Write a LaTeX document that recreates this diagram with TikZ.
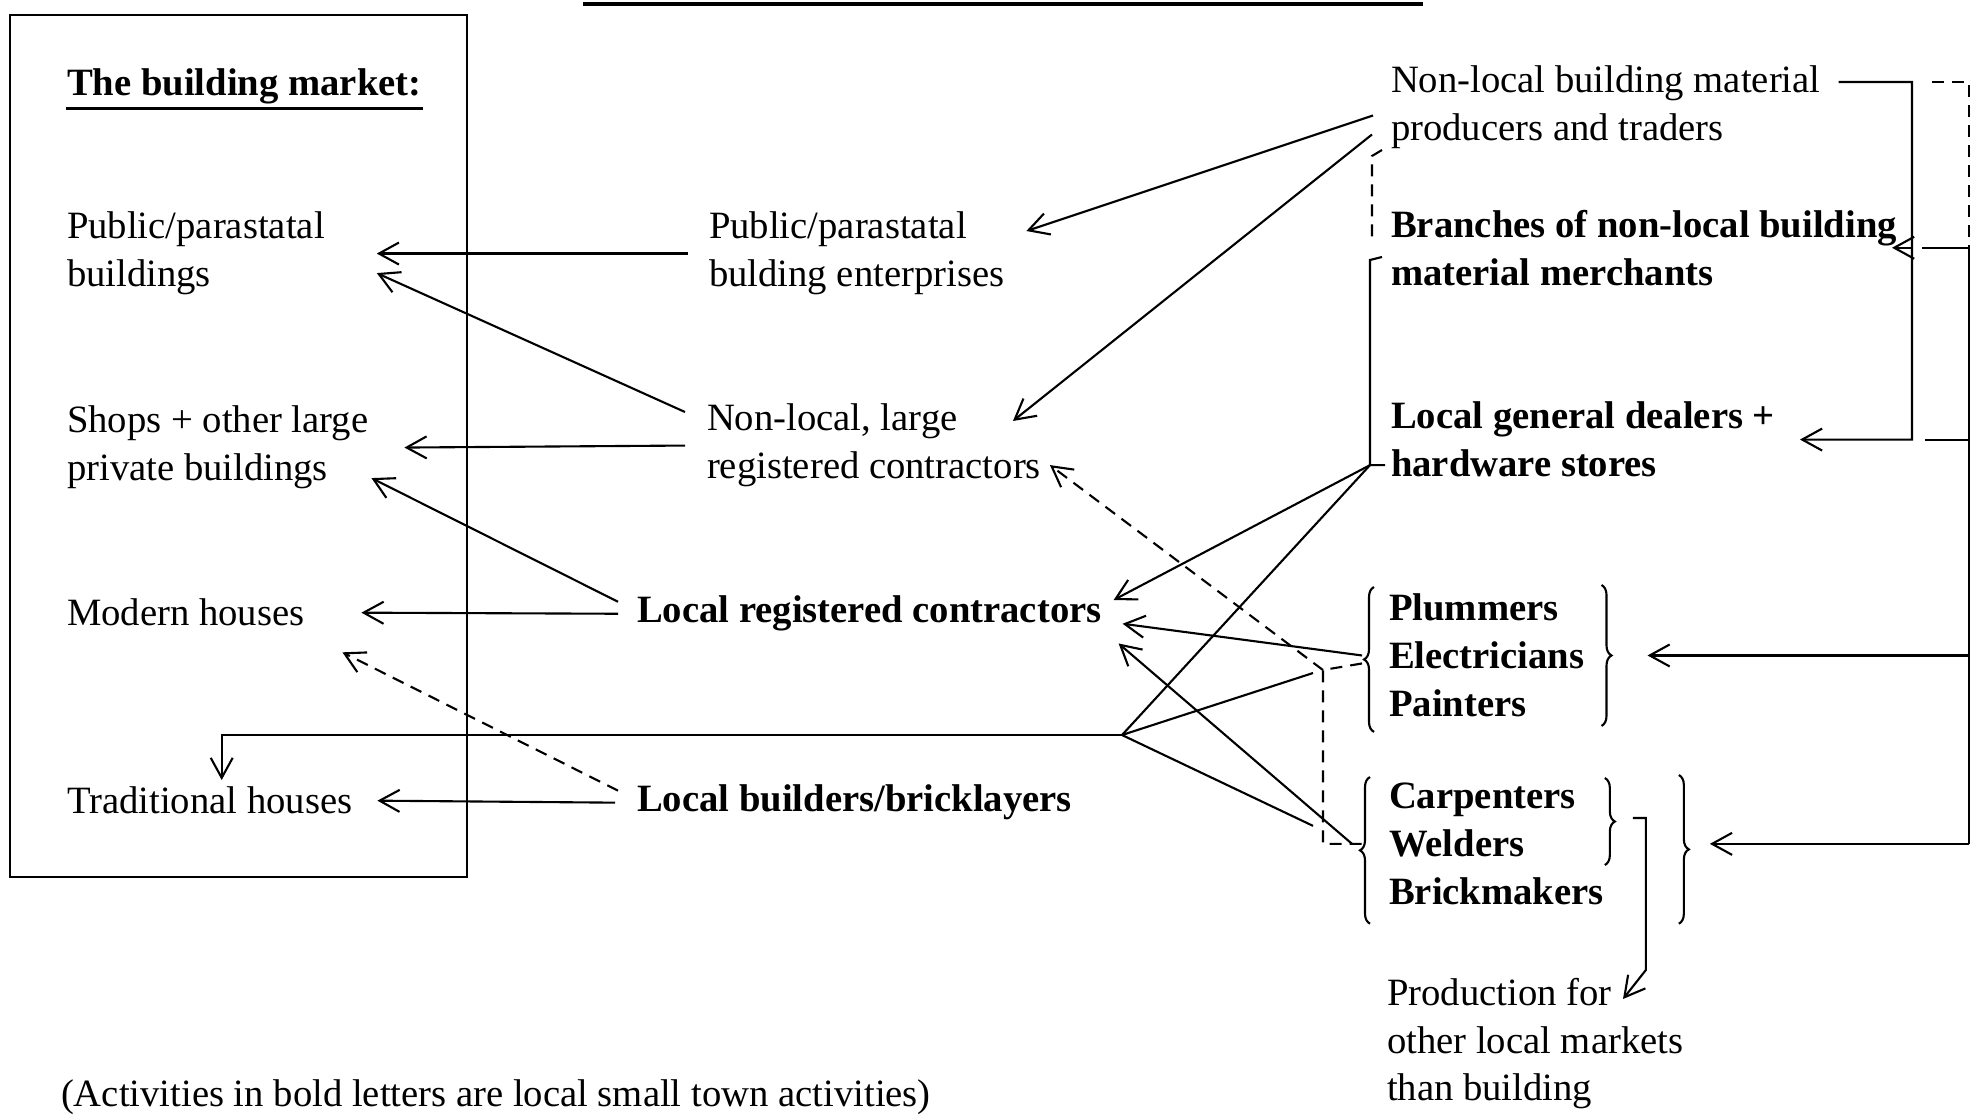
\documentclass[tikz,border=0pt]{standalone}
\usepackage{fontspec}
\setmainfont{Liberation Serif}
\usetikzlibrary{arrows.meta,decorations.pathreplacing}

\begin{document}
\begin{tikzpicture}[x=1cm, y=-1cm, line width=0.6pt,
		txt/.style={anchor=north west, inner sep=0pt, align=left, font=\fontsize{11pt}{13.6pt}\selectfont},
		boldtxt/.style={txt, font=\fontsize{11pt}{13.6pt}\selectfont\bfseries},
		arr/.style={-{Straight Barb[length=2mm,width=2.2mm]}},
		dashline/.style={dash pattern=on 1.2mm off 0.8mm},
		brc/.style={decorate, decoration={brace, amplitude=1mm}}]
			%%%%% START %%%%%
			\useasboundingbox (0,0) rectangle (19.88,11.16);
			
			\draw[line width=0.9pt] (5.83,0.04) -- (14.23,0.04);
			\draw (0.10,0.15) rectangle (4.67,8.77);
			
			\node[boldtxt] (market) at (0.66,0.68) {The building market:};
			\draw[line width=0.9pt] ([yshift=-0.3mm]market.south west) -- ([yshift=-0.3mm]market.south east);
			\node[txt] (pbuild) at (0.66,2.11) {Public/parastatal\\buildings};
			\node[txt] (shops) at (0.66,4.05) {Shops + other large\\private buildings};
			\node[txt] (modern) at (0.66,5.98) {Modern houses};
			\node[txt] (trad) at (0.66,7.86) {Traditional houses};
			
			\node[txt] (penter) at (7.08,2.11) {Public/parastatal\\bulding enterprises};
			\node[txt] (nonlocal) at (7.06,4.03) {Non-local, large\\registered contractors};
			\node[boldtxt] (localreg) at (6.36,5.95) {Local registered contractors};
			\node[boldtxt] (builders) at (6.36,7.84) {Local builders/bricklayers};
			
			\node[txt] (producers) at (13.90,0.65) {Non-local building material\\producers and traders};
			\node[boldtxt] (branches) at (13.90,2.09) {Branches of non-local building\\material merchants};
			\node[boldtxt] (dealers) at (13.90,4.01) {Local general dealers +\\hardware stores};
			\node[boldtxt] (plum) at (13.88,5.93) {Plummers\\Electricians\\Painters};
			\node[boldtxt] (carp) at (13.88,7.82) {Carpenters\\Welders\\Brickmakers};
			\node[txt] (prod) at (13.86,9.77) {Production for\\other local markets\\than building};
			
			\node[txt] (note) at (0.60,10.79) {(Activities in bold letters are local small town activities)};
			
			\coordinate (jn) at (11.22,7.35);
			\coordinate (dc) at (13.23,6.70);
			\coordinate (dj) at ([xshift=-2mm,yshift=1.3mm]dealers.south west);
			\coordinate (ri) at (19.12,0.82);
			\coordinate (ro) at (19.69,0.82);
			\coordinate (plumL) at ([xshift=-2.6mm]plum.west);
			\coordinate (carpL) at ([xshift=-2.6mm]carp.west);
			\coordinate (plumR) at ([xshift=6.2mm]plum.east);
			\coordinate (carpR) at ([xshift=10.5mm]carp.east);
			
			\draw[brc] ([xshift=-1.4mm,yshift=-1.4mm]plum.south west) -- ([xshift=-1.4mm,yshift=0.6mm]plum.north west);
			\draw[brc] ([xshift=1.6mm,yshift=0.8mm]plum.north east) -- ([xshift=1.6mm,yshift=-0.8mm]plum.south east);
			\draw[brc] ([xshift=-1.8mm,yshift=-1.8mm]carp.south west) -- ([xshift=-1.8mm,yshift=0.5mm]carp.north west);
			\draw[brc] ([yshift=0.4mm]carp.north east) -- ([yshift=-8.3mm]carp.north east);
			\draw[brc] ([xshift=7.4mm,yshift=0.7mm]carp.north east) -- ([xshift=7.4mm,yshift=-1.8mm]carp.south east);
			
			\draw[arr] ([xshift=-2mm]penter.west) -- ([xshift=5.1mm]pbuild.east);
			\draw[arr] ([xshift=-2.1mm,yshift=-0.9mm]nonlocal.north west) -- ([xshift=5.1mm,yshift=2.3mm]pbuild.south east);
			\draw[arr] ([xshift=-2.1mm]nonlocal.west) -- ([xshift=3.5mm]shops.east);
			\draw[arr] ([xshift=-1.8mm,yshift=1.2mm]localreg.west) -- ([xshift=0.2mm,yshift=1.2mm]shops.south east);
			\draw[arr] ([xshift=-1.8mm]localreg.west) -- ([xshift=5.6mm]modern.east);
			\draw[arr,dashline] ([xshift=-1.8mm,yshift=1.2mm]builders.west) -- ([xshift=3.7mm,yshift=-2.5mm]modern.south east);
			\draw[arr] ([xshift=-2.1mm]builders.west) -- ([xshift=2.4mm]trad.east);
			\draw[arr] (jn) -| ([xshift=1.2mm,yshift=0.6mm]trad.north);
			
			\draw[arr] ([xshift=-1.7mm,yshift=-0.8mm]producers.west) -- ([xshift=2.1mm,yshift=-2mm]penter.north east);
			\draw[arr] ([xshift=-1.8mm,yshift=-2.7mm]producers.west) -- ([xshift=-2.9mm,yshift=-1.8mm]nonlocal.north east);
			\draw[dashline] ([xshift=-0.8mm]producers.south west) -- ([xshift=-1.8mm,yshift=-0.6mm]producers.south west) -- ([xshift=-1.8mm,yshift=-2.8mm]branches.north west);
			\draw ([xshift=-0.8mm,yshift=-4.8mm]branches.north west) -- ([xshift=-2mm,yshift=-5.1mm]branches.north west) -- (dj) -- ([xshift=1.5mm]dj);
			\draw[arr] (dj) -- ([xshift=1.1mm,yshift=-0.5mm]localreg.north east);
			\draw (dj) -- (jn);
			\draw ([xshift=-1mm,yshift=-0.3mm]dc) -- (jn) -- ([xshift=-7.5mm,yshift=1.8mm]carp.west);
			\draw[arr] (plumL) -- ([xshift=2mm,yshift=-1mm]localreg.east);
			\draw[arr] ([xshift=-1mm]carpL) -- ([xshift=1.6mm,yshift=-1.1mm]localreg.south east);
			\draw[arr,dashline] (dc) -- ([xshift=0.8mm,yshift=2.3mm]nonlocal.south east);
			\draw[dashline] ([yshift=-0.8mm]plumL) -- (dc) |- (carpL);
			
			\draw[arr] ([xshift=1.7mm,yshift=-1.7mm]producers.north east) -- (ri) |- ([xshift=2.4mm]dealers.east);
			\draw[arr] (ri |- branches.east) -- ([xshift=-0.6mm]branches.east);
			\draw[dashline] ([xshift=2mm]ri) -- (ro) -- (ro |- branches.east);
			\draw ([xshift=1mm]ri |- branches.east) -- (ro |- branches.east) -- (ro |- carpR);
			\draw ([xshift=1.3mm]ri |- dealers.east) -- (ro |- dealers.east);
			\draw[arr] (ro |- plumR) -- (plumR);
			\draw[arr] (ro |- carpR) -- (carpR);
			
			\draw[arr] ([xshift=2.8mm,yshift=-3.6mm]carp.north east) -- ++(0.13,0) -- ++(0,1.52) -- ([xshift=23.7mm,yshift=-2.2mm]prod.north west);
			%%%%% END %%%%%
\end{tikzpicture}
\end{document}
